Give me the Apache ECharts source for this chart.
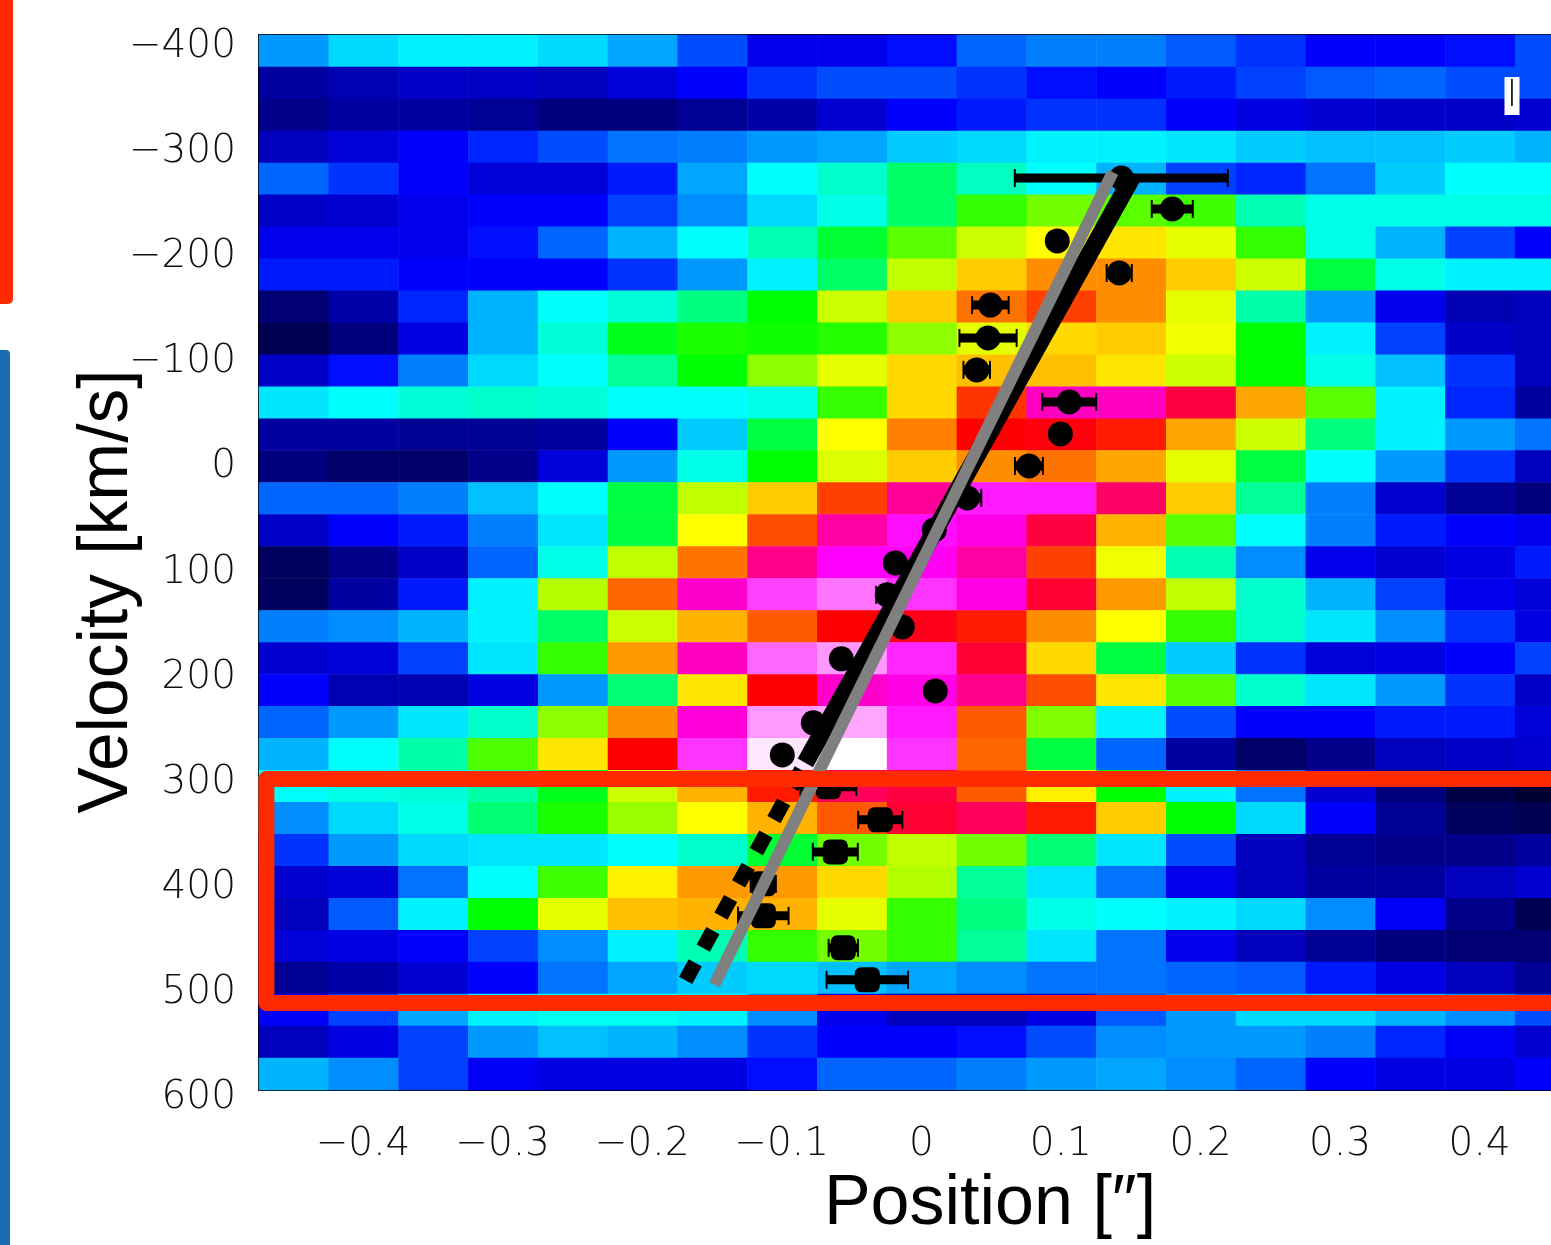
<!DOCTYPE html>
<html><head><meta charset="utf-8"><style>html,body{margin:0;padding:0;background:#fff}#c{width:1551px;height:1245px}</style>
<script src="https://cdn.jsdelivr.net/npm/echarts@6/dist/echarts.min.js"></script></head>
<body><div id="c"></div><script>
const colCount = 19;
const intensityRows = [
[16,18.5,19.5,19.5,18.5,16.5,13,9,9,10.5,14,15,15,13.5,12,10,10,10.5,13],
[5,6,7,7,6.5,8,10,12,13,13,12,10.5,10,11,12.5,13.5,14,13,13],
[4,5,5,4.5,3.5,3.5,4.5,5.5,7.5,10,11,12,12,10,8.5,7.5,7,7,7.5],
[6.5,8,10,11.5,13,14.5,15,16,16.5,18,18.5,19.5,19.5,19,18,17.5,17.5,18,17],
[14,12,10,8,8,11,16.5,20,22,26,22.5,20,17,12.5,11.5,14.5,18,20,20],
[7,7.5,9,10,10,12.5,15.5,18.5,21,26,32,34.5,33.5,32.5,23,21,21,21,21],
[9,9,9,10.5,14,17,20,23,28,33.5,38,40,41,39,32,21,17,12.5,10],
[11,11,10,10,10,12,16,19.5,26,37.5,42,44.5,44.5,42,38,27.5,21,19.5,19.5],
[3,5.5,11.5,17,20,21.5,25,30,38,42,45.5,47.5,44.5,39,23.5,16,9,6,6.5],
[1.5,3.5,8.5,17,21.5,29,31,30.5,31.5,35.5,39,41.5,42,39.5,30,19.5,12.5,7,6.5],
[7,10.5,15,18.5,20,24,30,35.5,39,41.5,42.5,42.5,41,38,30,21,17.5,12,6.5],
[19,20,21.5,22,21.5,20,20,21,32,41.5,48,57.5,57.5,52.5,43.5,33.5,19.5,11.5,5],
[5,5,4.5,4.5,5,10,18,27.5,40,45,50,50.5,49,43.5,38,25,19.5,16,14.5],
[3.5,2.5,2.5,4,8,16,21,30,38.5,42,44.5,45.5,43.5,39,27.5,20,16,12,6.5],
[14,14,15,17.5,20,27.5,37.5,42,47.5,56,61,61,54,42,24,15,7.5,4.5,3.5],
[7,10,11,15,19,27.5,40,47,56.5,60.5,59,52.5,43,33.5,20,15,11,10,9],
[2,4,7,14,21,37.5,45.5,55.5,60,59.5,56.5,47.5,39.5,23,15.5,9,7.5,8.5,11],
[2,5,11,19.5,37,46,58,62.5,64.5,62,59,52,44,37.5,22,17,12.5,9,8],
[15,15.5,17,19.5,26,38,43,46.5,50,51,49,44.5,40,32,22,19,15.5,12,8.5],
[7.5,8,12.5,19,32,44,57.5,64,66,61.5,52,41.5,27.5,18,12,8,8.5,10,12.5],
[10,6,6,8.5,16,25.5,41,50,58,59,55.5,47,41,33.5,22,19,16,12,7],
[14,16,19,22,35.5,44.5,58.5,66,66.5,61,46.5,35,19.5,13,10,10,11,11,8],
[17,20,23.5,33,41,50,62,69,70,62,46,27.5,14,5,2.5,4,6.5,7,7.5],
[20,21,21.5,23.5,29,38,43,49,53.5,52.5,46.5,40.5,30,19.5,14.5,7.5,3.5,1,0],
[15.5,18.5,21,25.5,31,36,40,43,46.5,52,53.5,49,42,30,18.5,10,4.5,2,1.5],
[12,16,18.5,19,19,20,22,28,34.5,37.5,34.5,25.5,19,13,6.5,4.5,4,4,5],
[7.5,8,14.5,20,32.5,40.5,44,44,41.5,37,24,19,14.5,9,6.5,5,5,6.5,7.5],
[6.5,13.5,19.5,30,39,42.5,43,43,39,32,25,21,20,19.5,18.5,15.5,9.5,4,1.5],
[8,8.5,10,12.5,15.5,19.5,23,32,34.5,32,24,19,14.5,9,6.5,4.5,3.5,3,3],
[4.5,5.5,7.5,10,14.5,16.5,18,18.5,17.5,16.5,15.5,14.5,14.5,14,13.5,11,8.5,6.5,4.5],
[9.5,12.5,16.5,19.5,20.5,20.5,19.5,15.5,9,6.5,6.5,8.5,13.5,16,18.5,18.5,17,15.5,13],
[6.5,8.5,12.5,16,17.5,17,15.5,12,10,10,10.5,13,15.5,16,16,15,11.5,9.5,7.5],
[17,15.5,12.5,9.5,8.5,8.5,8.5,10.5,14,14,15,16,16.5,15.5,14,10,8.5,8.5,10]
];
const colormap = ['#000030','#0000a0','#0000ff','#0080ff','#00ffff','#00ff80','#00ff00','#80ff00','#ffff00','#ff8000','#ff0000','#ff0080','#ff00ff','#ff80ff','#ffffff'];
const xTicks = [-0.4,-0.3,-0.2,-0.1,0,0.1,0.2,0.3,0.4];
const yTicks = [-400,-300,-200,-100,0,100,200,300,400,500,600];
const pointPos = [.1433,.1798,.0974,.1418,.0495,.0478,.0397,.106,.0996,.0771,.033,.0093,-.0186,-.0244,-.0136,-.0573,.01,-.0774,-.0996,-.0666,-.0294,-.0616,-.1132,-.1132,-.0559,-.0387];
const pointVel = [-263.9,-234.4,-204,-173.5,-143,-111.7,-81.3,-50.8,-20.4,10.1,40.5,71,102.4,132.8,163.3,193.7,224.2,254.6,285.1,315.5,346.9,377.4,407.8,438.2,468.7,499.1];
const pointErr = [.0763,.0147,0,.009,.0131,.0205,.0095,.0193,0,.01,.01,0,0,.0079,0,0,0,0,0,.02,.0158,.0161,.009,.0181,.0105,.0292];
const blackSolid = [[.1525,-268],[-.0831,292.7]];
const blackDashed = [[-.086,299.3],[-.169,500]];
const greyLine = [[.1372,-269.6],[-.1483,503.9]];
const xRange = [-0.4745,0.4755];
const yRange = [-400,604];
const squareFrom = 19;

const heat=[];
intensityRows.forEach((row,r)=>row.forEach((v,c)=>heat.push([c,r,v])));
const tickFont={fontFamily:'DejaVu Sans',fontWeight:200,fontSize:39,color:'#111'};
const fmt=v=>{const s=String(Math.abs(v));return (v<0?'\u2212':'')+s;};
const valX=(pos)=>({type:'value',position:pos,min:xRange[0],max:xRange[1],
  axisLine:{show:true,onZero:false,lineStyle:{color:'#000',width:2}},splitLine:{show:false},
  axisTick:{show:true,inside:true,length:9,lineStyle:{color:'#000',width:1.5},customValues:xTicks},
  axisLabel:{show:pos==='bottom',formatter:fmt,customValues:xTicks,margin:35,...tickFont}});
const valY=(pos)=>({type:'value',position:pos,inverse:true,min:yRange[0],max:yRange[1],
  axisLine:{show:true,onZero:false,lineStyle:{color:'#000',width:2}},splitLine:{show:false},
  axisTick:{show:true,inside:true,length:10,lineStyle:{color:'#000',width:1.5},customValues:yTicks},
  axisLabel:{show:pos==='left',formatter:fmt,customValues:yTicks,margin:23,verticalAlign:'top',lineHeight:24,...tickFont}});
const xb=valX('bottom');
xb.name='Position [\u2033]';xb.nameLocation='middle';xb.nameGap=115;xb.nameMoveOverlap=false;
xb.nameTextStyle={fontFamily:'Liberation Sans',fontSize:70,color:'#000',padding:[0,0,0,136],verticalAlign:'middle'};
const yl=valY('left');
yl.name='Velocity [km/s]';yl.nameLocation='middle';yl.nameGap=151;yl.nameMoveOverlap=false;
yl.nameTextStyle={fontFamily:'Liberation Sans',fontSize:69.5,color:'#000',padding:[0,58,0,0],verticalAlign:'middle'};

const chart=echarts.init(document.getElementById('c'),null,{renderer:'canvas'});
chart.setOption({
  animation:false,backgroundColor:'#fff',
  grid:{left:259,top:35,width:1326,height:1055,containLabel:false,outerBoundsMode:'none'},
  xAxis:[{type:'category',show:false,data:Array.from({length:colCount},(_,i)=>i)},xb,valX('top')],
  yAxis:[{type:'category',show:false,inverse:true,data:intensityRows.map((_,i)=>i)},yl,valY('right')],
  visualMap:{show:false,type:'continuous',seriesIndex:0,min:0,max:70,inRange:{color:colormap}},
  series:[
    {type:'heatmap',xAxisIndex:0,yAxisIndex:0,data:heat,itemStyle:{borderWidth:0},z:1},
    {type:'custom',xAxisIndex:1,yAxisIndex:1,z:3,
     data:pointPos.map((p,i)=>[p,pointVel[i],pointErr[i]]),
     renderItem(params,api){
       const p=api.value(0),v=api.value(1),e=api.value(2);
       if(!e) return {type:'group',children:[]};
       const a=api.coord([p-e,v]),b=api.coord([p+e,v]);
       const k={fill:'#000'};
       return {type:'group',children:[
         {type:'rect',shape:{x:a[0],y:a[1]-4.5,width:b[0]-a[0],height:9},style:k},
         {type:'rect',shape:{x:a[0]-1,y:a[1]-9,width:2,height:18},style:k},
         {type:'rect',shape:{x:b[0]-1,y:b[1]-9,width:2,height:18},style:k}]};
     }},
    {type:'scatter',xAxisIndex:1,yAxisIndex:1,z:4,symbolSize:25,
     symbol:(val,params)=>params.dataIndex>=squareFrom?'roundRect':'circle',
     itemStyle:{color:'#000',opacity:1},data:pointPos.map((p,i)=>[p,pointVel[i]])},
    {type:'line',xAxisIndex:1,yAxisIndex:1,z:5,showSymbol:false,symbol:'none',data:blackSolid,lineStyle:{color:'#000',width:17.5,cap:'butt'}},
    {type:'line',xAxisIndex:1,yAxisIndex:1,z:5,showSymbol:false,symbol:'none',data:blackDashed,lineStyle:{color:'#000',width:15,cap:'butt',type:[20,16.7]}},
    {type:'line',xAxisIndex:1,yAxisIndex:1,z:6,showSymbol:false,symbol:'none',data:greyLine,lineStyle:{color:'#808080',width:12,cap:'butt'}}
  ],
  graphic:{elements:[
    {type:'rect',z:100,shape:{x:266.4,y:779,width:1500,height:224,r:0},style:{fill:null,stroke:'#ff2a00',lineWidth:16,lineJoin:'round'}},
    {type:'rect',z:100,shape:{x:-10,y:-10,width:23,height:314,r:5},style:{fill:'#ff2a00'}},
    {type:'rect',z:100,shape:{x:-10,y:350,width:20,height:905,r:4},style:{fill:'#1a6ab4'}},
    {type:'rect',z:100,shape:{x:1504.5,y:77,width:15,height:38},style:{fill:'#fff'}},
    {type:'text',z:101,x:1512,y:96,style:{text:'I',fontFamily:'DejaVu Sans',fontWeight:200,fontSize:37,fill:'#222',align:'center',verticalAlign:'middle'}}
  ]}
});
</script></body></html>
